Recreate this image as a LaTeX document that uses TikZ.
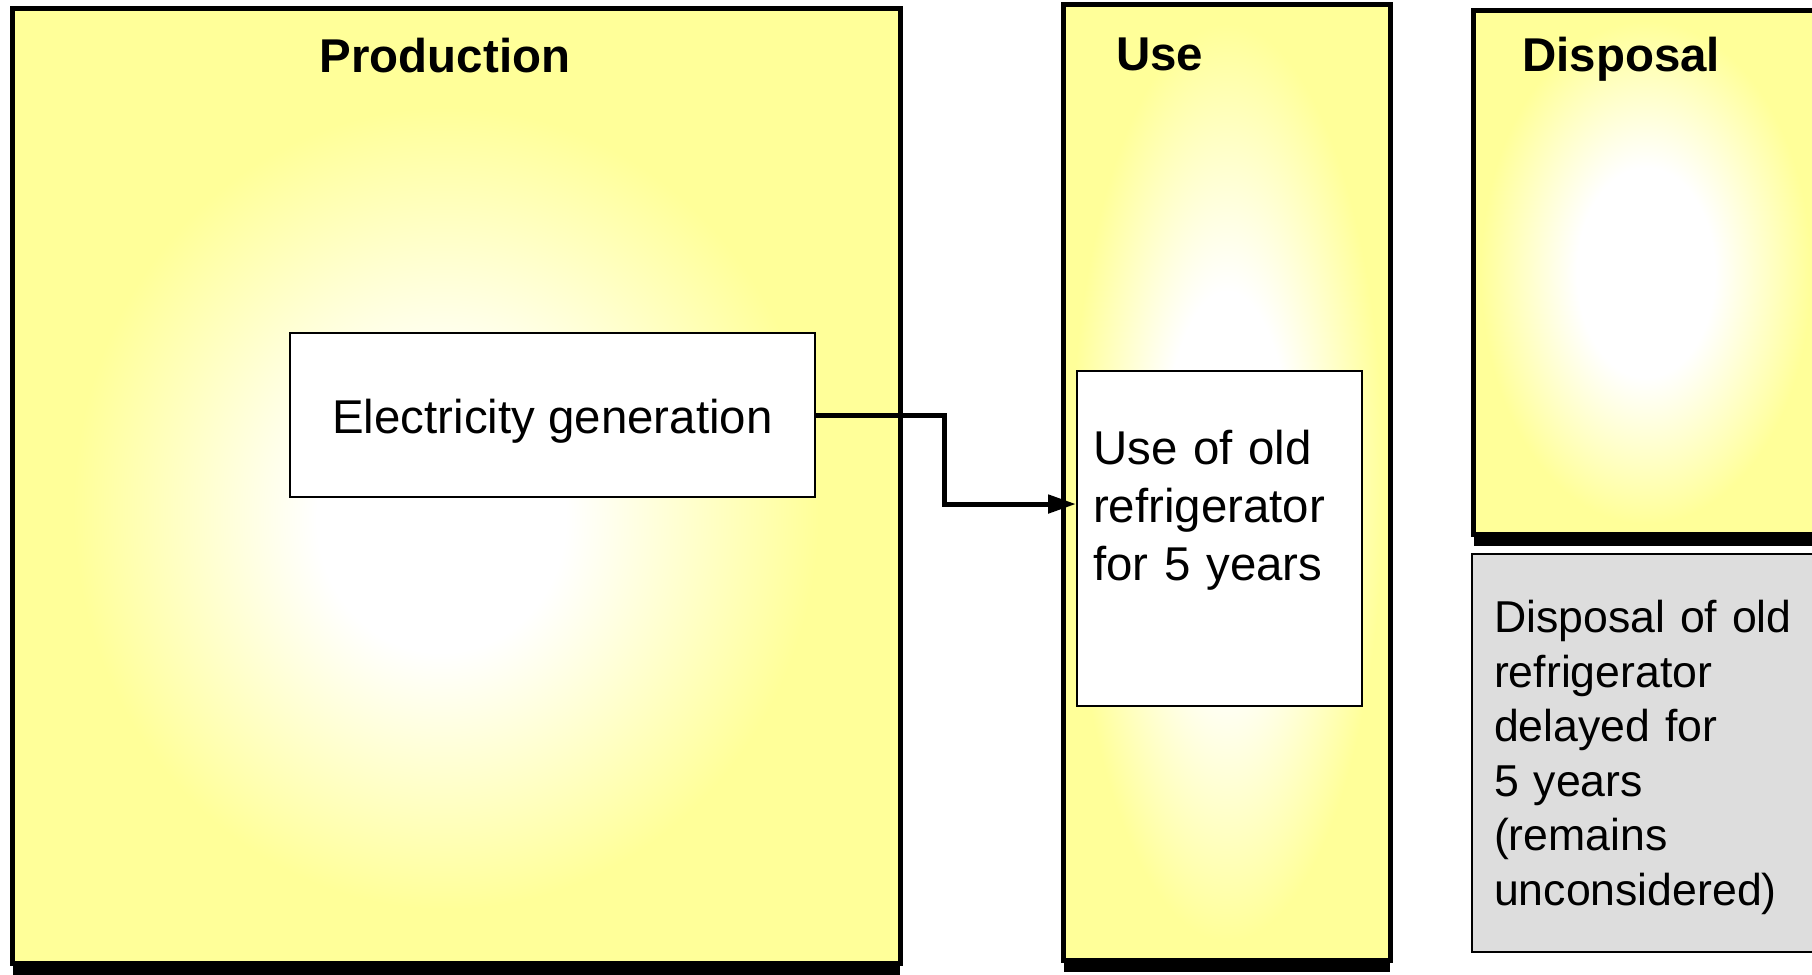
\documentclass[tikz,border=0pt]{standalone}
\usepackage{fontspec}
\setmainfont{Liberation Sans}
\usetikzlibrary{positioning,calc,shadows,arrows.meta}
\definecolor{FrameFill}{HTML}{FFFF99}
\definecolor{GreyBox}{HTML}{DDDDDD}
\pgfdeclareradialshading{wideglow}{\pgfpoint{-1bp}{-2bp}}{color(0bp)=(white); color(7bp)=(white); color(21bp)=(FrameFill); color(50bp)=(FrameFill)}
\pgfdeclareradialshading{narrowglow}{\pgfpoint{0bp}{0bp}}{color(0bp)=(white); color(10bp)=(white); color(24bp)=(FrameFill); color(50bp)=(FrameFill)}

\begin{document}
\begin{tikzpicture}[x=0.02cm,y=-0.02cm,
	font=\fontsize{27}{33}\selectfont,
	stage/.style={draw=black, line width=0.1cm, inner sep=0pt,
		drop shadow={shadow xshift=0cm, shadow yshift=-0.24cm, opacity=1, fill=black}},
	stagetitle/.style={font=\fontsize{27}{33}\selectfont\bfseries, inner sep=0pt},
	box/.style={draw=black, line width=1.2pt, fill=white, inner sep=0pt},
	flow/.style={line width=0.1cm, -{Triangle[length=0.56cm,width=0.36cm]}}
	]
	\useasboundingbox (0,0) rectangle (1812,974);
	
	\node[stage, shading=wideglow, minimum width=17.76cm, minimum height=19.1cm] (production) at (456.5,486) {};
	\node[stage, shading=narrowglow, minimum width=6.54cm, minimum height=19.12cm] (use) at (1227,482.5) {};
	\node[stage, shading=narrowglow, minimum width=6.89cm, minimum height=10.48cm] (disposal) at (1645.75,272.5) {};
	
	\node[stagetitle, anchor=base] (productiontitle) at (445,72) {Production};
	\node[stagetitle, anchor=base west] (usetitle) at (1116,70) {Use};
	\node[stagetitle, anchor=base west] (disposaltitle) at (1522,71) {Disposal};
	
	\node[box, minimum width=10.5cm, minimum height=3.28cm, text height=0.94cm, text depth=0.2cm] (electricity) at (552.5,415) {Electricity generation};
	\node[box, anchor=north west, inner xsep=0.32cm, text width=5.06cm, align=left,
		text height=1.86cm, text depth=4.84cm, font=\fontsize{27}{33.2}\selectfont] (oldfridge) at (1076,370)
		{Use of old\\refrigerator\\for 5 years};
	\node[box, fill=GreyBox, anchor=north west, inner xsep=0.44cm, text width=7.12cm, align=left,
		minimum height=7.96cm, text height=0.83cm, font=\fontsize{25.4}{31}\selectfont] (olddisposal) at (1471,553)
		{Disposal of old\\refrigerator\\delayed for\\5 years\\(remains\\unconsidered)};
	
	\draw[flow] (electricity.east) -- ++(128,0) |- ([yshift=0.69cm]oldfridge.west);
\end{tikzpicture}
\end{document}
